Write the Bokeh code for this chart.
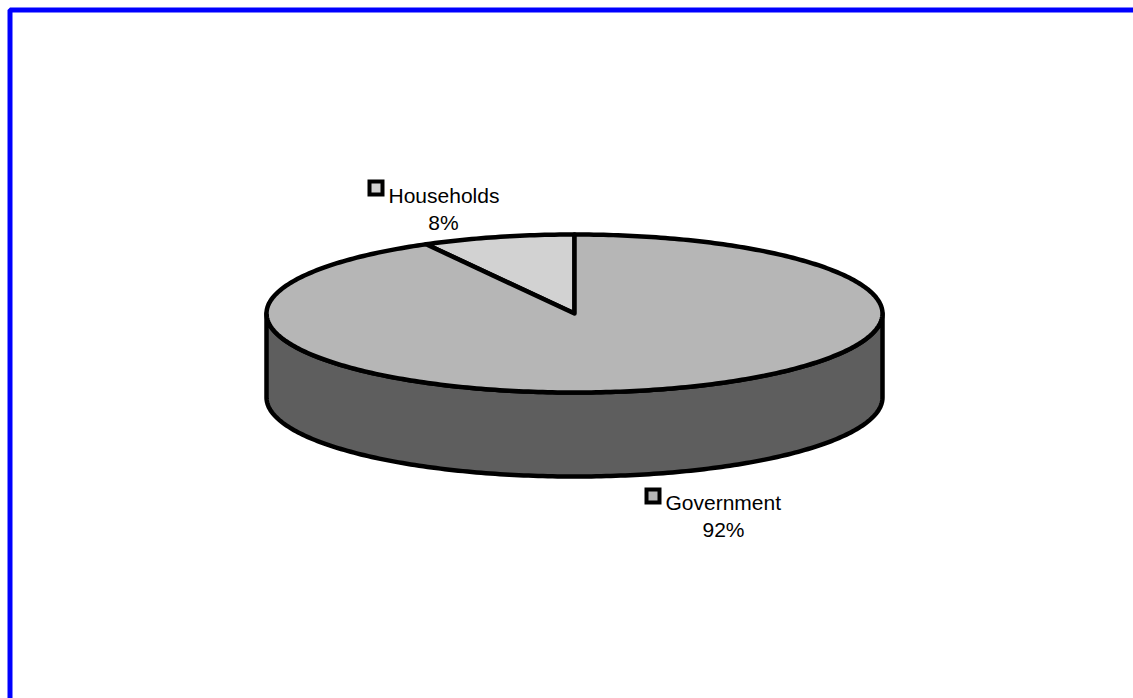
import numpy as np
from bokeh.plotting import figure
from bokeh.models import Range1d
from bokeh.core.properties import value
from bokeh.embed import file_html
from bokeh.resources import INLINE

# Shares of funding (percent)
labels = ["Households", "Government"]
shares = [8, 92]
top_colors = ["#d2d2d2", "#b6b6b6"]
side_color = "#5e5e5e"

W, H = 1133, 698
p = figure(width=W, height=H, output_backend="svg", toolbar_location=None,
           x_range=Range1d(0, W), y_range=Range1d(H, 0),
           min_border=0, outline_line_color=None)
p.axis.visible = False
p.grid.visible = False
p.background_fill_color = "white"
p.border_fill_color = "white"

# blue frame (extends past the lower/right edges of the page)
p.quad(left=[9.5], right=[1300], top=[9.5], bottom=[900],
       fill_color=None, line_color="#0000ff", line_width=5)

# ellipse geometry for the tilted pie
cx, cy, a, b, depth = 574.0, 313.0, 308.0, 79.0, 84.0

def ell(t):
    return cx + a * np.cos(t), cy - b * np.sin(t)

# side wall: front half of the ellipse, extruded downward
t = np.linspace(np.pi, 2 * np.pi, 200)
xs, ys = ell(t)
side_x = np.concatenate([xs, xs[::-1]])
side_y = np.concatenate([ys, ys[::-1] + depth])
p.patch(side_x, side_y, fill_color=side_color, line_color="black",
        line_width=4.5, line_join="round")

# top face slices, starting at 12 o'clock and running counterclockwise
fracs = np.array(shares, dtype=float) / sum(shares)
start = np.pi / 2
for frac, col in zip(fracs, top_colors):
    end = start + frac * 2 * np.pi
    tt = np.linspace(start, end, max(int(frac * 400), 20))
    ex, ey = ell(tt)
    px = np.concatenate([[cx], ex, [cx]])
    py = np.concatenate([[cy], ey, [cy]])
    p.patch(px, py, fill_color=col, line_color="black", line_width=4.5,
            line_join="round")
    start = end

# labels with legend-style markers
font = value("Liberation Sans")
label_pos = [(367, 179, 443, 195, 222), (644, 487, 723, 502, 529)]
for (mx, my, pcx, by1, by2), lab, sh, col in zip(label_pos, labels, shares, top_colors):
    p.quad(left=[mx], right=[mx + 17], top=[my], bottom=[my + 17],
           fill_color="black", line_color=None)
    p.quad(left=[mx + 4], right=[mx + 13], top=[my + 4], bottom=[my + 13],
           fill_color=col, line_color=None)
    p.text(x=[mx + 21], y=[by1], text=[lab], text_font=font,
           text_font_size="21px", text_color="black",
           text_align="left", text_baseline="alphabetic")
    p.text(x=[pcx], y=[by2], text=[f"{sh}%"], text_font=font,
           text_font_size="21px", text_color="black",
           text_align="center", text_baseline="alphabetic")

open("out.html", "w").write(file_html(p, INLINE))
